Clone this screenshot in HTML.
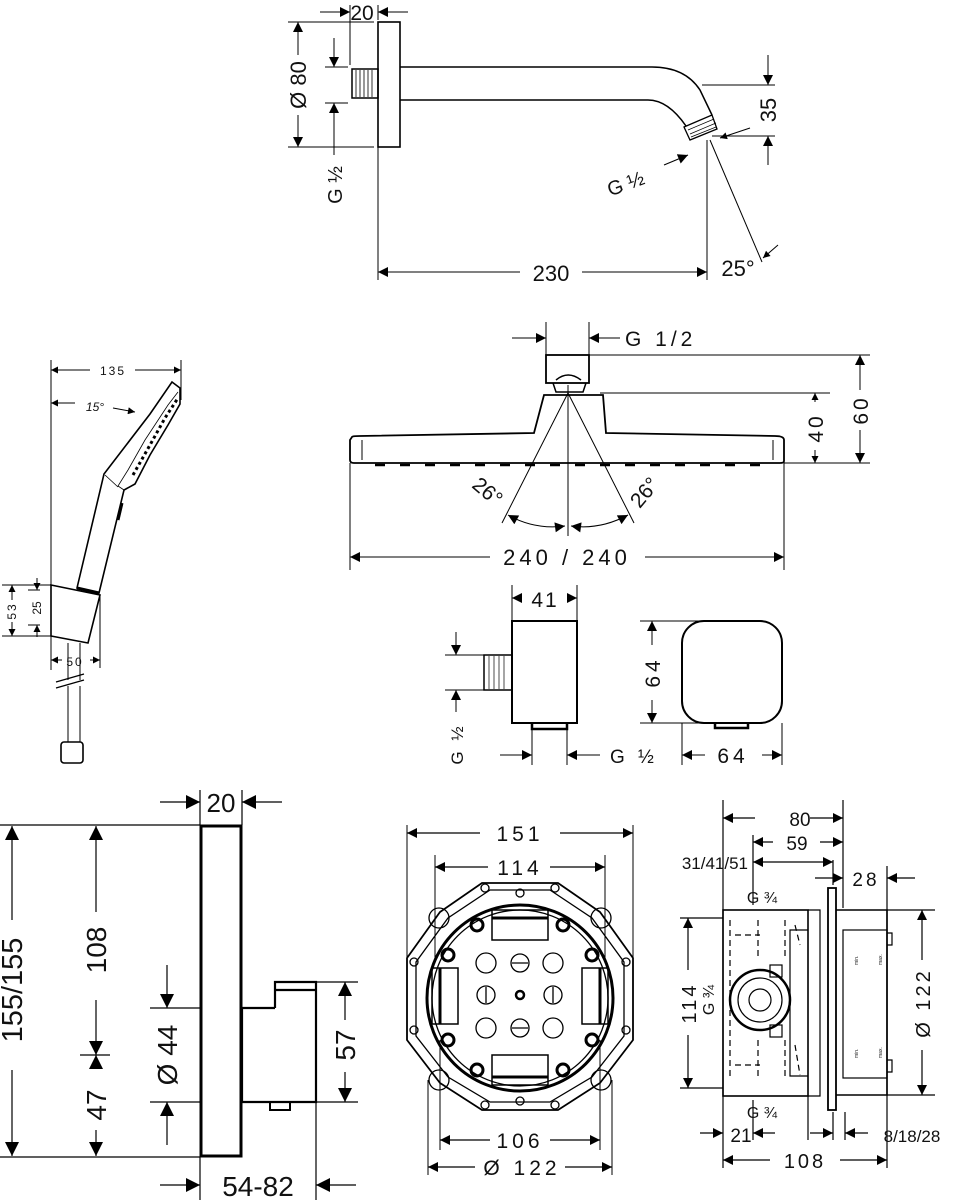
<!DOCTYPE html>
<html><head><meta charset="utf-8"><style>
html,body{margin:0;padding:0;background:#fff}
svg{display:block}
text{font-family:"Liberation Sans","DejaVu Sans",sans-serif;fill:#111}
</style></head><body>
<svg width="955" height="1200" viewBox="0 0 955 1200" xmlns="http://www.w3.org/2000/svg">
<defs>
<marker id="s" viewBox="0 0 10 10" refX="10" refY="5" markerWidth="11" markerHeight="10" markerUnits="userSpaceOnUse" orient="auto-start-reverse"><path d="M0,0L10,5L0,10z" fill="#000"/></marker>
<marker id="b" viewBox="0 0 10 10" refX="10" refY="5" markerWidth="15" markerHeight="14" markerUnits="userSpaceOnUse" orient="auto-start-reverse"><path d="M0,0L10,5L0,10z" fill="#000"/></marker>
<marker id="t" viewBox="0 0 10 10" refX="10" refY="5" markerWidth="8" markerHeight="7" markerUnits="userSpaceOnUse" orient="auto-start-reverse"><path d="M0,0L10,5L0,10z" fill="#000"/></marker>
</defs>

<!-- ===== TOP: wall arm ===== -->
<g stroke="#000" fill="none" stroke-width="1">
<rect x="378" y="22" width="22" height="125" stroke-width="1.6"/>
<rect x="352" y="69" width="26" height="29" stroke-width="1.5"/>
<path d="M356,70V97M360,70V97M364,70V97M368,70V97M372,70V97" stroke-width="0.8"/>
<path d="M400,67H652Q685,67 700,90L712,115" stroke-width="1.5"/>
<path d="M400,100H648Q668,100 686,126" stroke-width="1.5"/>
<path d="M684,127L712,115L717,129L690,140Z" stroke-width="1.3"/>
<path d="M688,130L714,119M690,134L716,123M691,137L716,127" stroke-width="0.7"/>
<path d="M350,5V65M378,5V20"/>
<line x1="320" y1="12" x2="350" y2="12" marker-end="url(#s)"/>
<line x1="408" y1="12" x2="378" y2="12" marker-end="url(#s)"/>
<path d="M288,22H374M288,147H374"/>
<line x1="298" y1="55" x2="298" y2="22" marker-end="url(#s)"/>
<line x1="298" y1="115" x2="298" y2="147" marker-end="url(#s)"/>
<path d="M325,67H348M325,103H348"/>
<line x1="334" y1="38" x2="334" y2="67" marker-end="url(#s)"/>
<line x1="334" y1="155" x2="334" y2="103" marker-end="url(#s)"/>
<path d="M378,147V280M707,140V280"/>
<line x1="520" y1="272" x2="378" y2="272" marker-end="url(#s)"/>
<line x1="582" y1="272" x2="707" y2="272" marker-end="url(#s)"/>
<path d="M702,85H775M712,136H775"/>
<line x1="768" y1="55" x2="768" y2="85" marker-end="url(#s)"/>
<line x1="768" y1="165" x2="768" y2="136" marker-end="url(#s)"/>
<line x1="750" y1="128" x2="720" y2="138" marker-end="url(#t)"/>
<path d="M710,140L762,262"/>
<line x1="778" y1="245" x2="763" y2="258" marker-end="url(#t)"/>
<line x1="664" y1="165" x2="688" y2="155" marker-end="url(#s)"/>
</g>
<text x="362" y="20" font-size="21" text-anchor="middle">20</text>
<text transform="translate(306,85) rotate(-90)" font-size="22" text-anchor="middle">Ø 80</text>
<text transform="translate(342,185) rotate(-90)" font-size="20" text-anchor="middle">G ½</text>
<text x="551" y="281" font-size="22" text-anchor="middle">230</text>
<text transform="translate(776,110) rotate(-90)" font-size="22" text-anchor="middle">35</text>
<text x="738" y="276" font-size="22" text-anchor="middle">25°</text>
<text transform="translate(628,190) rotate(-20)" font-size="20" text-anchor="middle">G ½</text>

<!-- ===== HAND SHOWER ===== -->
<g stroke="#000" fill="none" stroke-width="1">
<path d="M51,360V670M181,360V400"/>
<line x1="90" y1="370" x2="51" y2="370" marker-end="url(#t)"/>
<line x1="135" y1="370" x2="181" y2="370" marker-end="url(#t)"/>
<line x1="75" y1="403" x2="51" y2="403" marker-end="url(#t)"/>
<line x1="113" y1="408" x2="135" y2="412" marker-end="url(#t)"/>
<path d="M104,474L150,414L172,382L180,388L180,404L168,425L150,455L135,484L124,490L99,593L77,588L104,474Z" stroke-width="1.6"/>
<path d="M124,490L118,486L128,470L145,440L168,405L178,392" stroke-width="0.8"/>
<path d="M118,487L105,475" stroke-width="0.8"/>
<path d="M133,475L150,445L165,418L178,398" stroke-width="3" stroke-dasharray="3,3"/>
<path d="M122,503L118,520" stroke-width="3"/>
<path d="M51,585L100,595L88,643L51,636Z" stroke-width="1.6"/>
<path d="M77,588L99,593" stroke-width="3"/>
<path d="M68,643V680M80,643V680M68,686V742M80,686V742"/>
<path d="M56,682L84,674M56,688L84,680" stroke-width="1.3"/>
<rect x="61" y="742" width="22" height="21" rx="3" stroke-width="1.6"/>
<path d="M2,585H51M2,636H51M28,590H40M28,625H40M100,595V668"/>
<line x1="12" y1="600" x2="12" y2="585" marker-end="url(#t)"/>
<line x1="12" y1="622" x2="12" y2="636" marker-end="url(#t)"/>
<line x1="37" y1="578" x2="37" y2="590" marker-end="url(#t)"/>
<line x1="37" y1="637" x2="37" y2="625" marker-end="url(#t)"/>
<line x1="62" y1="660" x2="51" y2="660" marker-end="url(#t)"/>
<line x1="90" y1="660" x2="100" y2="660" marker-end="url(#t)"/>
</g>
<text x="113" y="375" font-size="12" text-anchor="middle" letter-spacing="2">135</text>
<text x="95" y="411" font-size="12" text-anchor="middle" font-style="italic">15°</text>
<text transform="translate(16,611) rotate(-90)" font-size="12" text-anchor="middle" letter-spacing="2">53</text>
<text transform="translate(41,608) rotate(-90)" font-size="12" text-anchor="middle">25</text>
<text x="75" y="666" font-size="12" text-anchor="middle" letter-spacing="2">50</text>

<!-- ===== RAIN SHOWER HEAD ===== -->
<g stroke="#000" fill="none" stroke-width="1">
<path d="M352,437Q352,436 360,436L534,433L544,395L603,395L606,433L775,436Q784,436 784,440V461Q784,463 780,463H354Q350,463 350,460V440Z" stroke-width="1.8"/>
<path d="M362,440V460M773,440V460"/>
<rect x="546" y="355" width="43" height="28" stroke-width="1.8"/>
<path d="M553,383L556,392L583,392L586,383M556,380Q568,370 581,380" stroke-width="1.5"/>
<path d="M375,465H385M400,465H410M425,465H435M450,465H460M475,465H485M500,465H510M525,465H535M550,465H560M575,465H585M600,465H610M625,465H635M650,465H660M675,465H685M700,465H710M725,465H735M750,465H760" stroke-width="2.5"/>
<path d="M568,385V536M568,393L502,523M568,393L634,523"/>
<path d="M546,322V355M589,322V355"/>
<line x1="512" y1="338" x2="546" y2="338" marker-end="url(#s)"/>
<line x1="620" y1="338" x2="589" y2="338" marker-end="url(#s)"/>
<path d="M589,355H870M600,393H830M784,463H870"/>
<line x1="860" y1="390" x2="860" y2="355" marker-end="url(#s)"/>
<line x1="860" y1="430" x2="860" y2="463" marker-end="url(#s)"/>
<line x1="815" y1="402" x2="815" y2="393" marker-end="url(#t)"/>
<line x1="815" y1="450" x2="815" y2="463" marker-end="url(#t)"/>
<path d="M350,463V570M784,463V570"/>
<line x1="490" y1="557" x2="350" y2="557" marker-end="url(#s)"/>
<line x1="645" y1="557" x2="784" y2="557" marker-end="url(#s)"/>
<path d="M508,515Q535,530 565,526" marker-start="url(#s)" marker-end="url(#s)"/>
<path d="M571,526Q600,530 628,515" marker-start="url(#s)" marker-end="url(#s)"/>
</g>
<text x="625" y="346" font-size="21" letter-spacing="4">G 1/2</text>
<text transform="translate(868,410) rotate(-90)" font-size="21" text-anchor="middle" letter-spacing="3">60</text>
<text transform="translate(823,428) rotate(-90)" font-size="21" text-anchor="middle" letter-spacing="3">40</text>
<text x="567" y="565" font-size="22" text-anchor="middle" letter-spacing="4">240 / 240</text>
<text transform="translate(483,497) rotate(40)" font-size="21" text-anchor="middle">26°</text>
<text transform="translate(650,497) rotate(-50)" font-size="21" text-anchor="middle">26°</text>

<!-- ===== OUTLET ===== -->
<g stroke="#000" fill="none" stroke-width="1">
<rect x="512" y="621" width="65" height="102" stroke-width="2"/>
<rect x="484" y="655" width="28" height="35" stroke-width="1.5"/>
<path d="M489,656V689M494,656V689M499,656V689M504,656V689" stroke-width="0.7"/>
<path d="M532,723V729H567V723" stroke-width="2.5"/>
<path d="M512,585V621M577,585V621"/>
<line x1="522" y1="598" x2="512" y2="598" marker-end="url(#s)"/>
<line x1="567" y1="598" x2="577" y2="598" marker-end="url(#s)"/>
<path d="M445,655H484M445,690H484"/>
<line x1="456" y1="632" x2="456" y2="655" marker-end="url(#s)"/>
<line x1="456" y1="712" x2="456" y2="690" marker-end="url(#s)"/>
<path d="M532,729V765M567,729V765"/>
<line x1="500" y1="755" x2="532" y2="755" marker-end="url(#s)"/>
<line x1="600" y1="755" x2="567" y2="755" marker-end="url(#s)"/>
<rect x="682" y="621" width="100" height="102" rx="22" stroke-width="2"/>
<path d="M715,723V728H748V723" stroke-width="2.5"/>
<path d="M640,621H760M640,723H700M682,723V765M782,723V765"/>
<line x1="652" y1="645" x2="652" y2="621" marker-end="url(#s)"/>
<line x1="652" y1="700" x2="652" y2="723" marker-end="url(#s)"/>
<line x1="705" y1="755" x2="682" y2="755" marker-end="url(#s)"/>
<line x1="762" y1="755" x2="782" y2="755" marker-end="url(#s)"/>
</g>
<text x="545" y="607" font-size="21" text-anchor="middle" letter-spacing="2">41</text>
<text transform="translate(463,744) rotate(-90)" font-size="17" text-anchor="middle" letter-spacing="3">G ½</text>
<text x="610" y="763" font-size="19" letter-spacing="4">G ½</text>
<text transform="translate(660,672) rotate(-90)" font-size="21" text-anchor="middle" letter-spacing="4">64</text>
<text x="733" y="763" font-size="21" text-anchor="middle" letter-spacing="4">64</text>

<!-- ===== BOTTOM LEFT: thermostat ===== -->
<g stroke="#000" fill="none" stroke-width="1.2">
<rect x="201" y="826" width="40" height="330" stroke-width="3"/>
<path d="M242,1008H275M242,1008V1102H316V982H275V1008M275,990H316" stroke-width="2.2"/>
<path d="M270,1102V1110H290V1102" stroke-width="2"/>
<path d="M0,825H200M0,1157H200M150,1008H200M150,1102H200M316,982H358M316,1102H358M200,1157V1200M316,1102V1200M200,790V825M242,790V825"/>
<line x1="160" y1="802" x2="200" y2="802" marker-end="url(#b)"/>
<line x1="282" y1="802" x2="242" y2="802" marker-end="url(#b)"/>
<line x1="12" y1="920" x2="12" y2="826" marker-end="url(#b)"/>
<line x1="12" y1="1070" x2="12" y2="1156" marker-end="url(#b)"/>
<line x1="96" y1="912" x2="96" y2="826" marker-end="url(#b)"/>
<line x1="96" y1="1000" x2="96" y2="1055" marker-end="url(#b)"/>
<path d="M80,1055H110"/>
<line x1="96" y1="1068" x2="96" y2="1055" marker-end="url(#b)"/>
<line x1="96" y1="1130" x2="96" y2="1156" marker-end="url(#b)"/>
<line x1="167" y1="965" x2="167" y2="1008" marker-end="url(#b)"/>
<line x1="167" y1="1145" x2="167" y2="1102" marker-end="url(#b)"/>
<line x1="345" y1="1020" x2="345" y2="982" marker-end="url(#b)"/>
<line x1="345" y1="1072" x2="345" y2="1102" marker-end="url(#b)"/>
<line x1="160" y1="1185" x2="200" y2="1185" marker-end="url(#b)"/>
<line x1="356" y1="1185" x2="316" y2="1185" marker-end="url(#b)"/>
</g>
<text x="221" y="812" font-size="26" text-anchor="middle">20</text>
<text transform="translate(22,990) rotate(-90)" font-size="29" text-anchor="middle">155/155</text>
<text transform="translate(106,950) rotate(-90)" font-size="28" text-anchor="middle">108</text>
<text transform="translate(106,1105) rotate(-90)" font-size="28" text-anchor="middle">47</text>
<text transform="translate(177,1055) rotate(-90)" font-size="28" text-anchor="middle">Ø 44</text>
<text transform="translate(355,1045) rotate(-90)" font-size="28" text-anchor="middle">57</text>
<text x="258" y="1196" font-size="28" text-anchor="middle">54-82</text>

<!-- ===== MOUNTING BOX ===== -->
<g stroke="#000" fill="none" stroke-width="1.3">
<path d="M482,883H558L600,912L633,958V1040L600,1083L558,1110H482L440,1083L407,1040V958L440,912Z" stroke-width="1.8"/>
<path d="M490,890H550L592,918L624,962V1036L592,1077L550,1102H490L448,1077L416,1036V962L448,918Z"/>
<circle cx="520" cy="998" r="93" stroke-width="3"/>
<circle cx="520" cy="998" r="88"/>
<circle cx="439" cy="918" r="10"/><circle cx="601" cy="918" r="10"/><circle cx="439" cy="1080" r="10"/><circle cx="601" cy="1080" r="10"/>
<circle cx="486" cy="963" r="10"/><circle cx="520" cy="963" r="9"/><circle cx="553" cy="963" r="10"/>
<circle cx="486" cy="995" r="9"/><circle cx="520" cy="995" r="4" stroke-width="2.5"/><circle cx="553" cy="995" r="9"/>
<circle cx="486" cy="1028" r="10"/><circle cx="520" cy="1028" r="9"/><circle cx="553" cy="1028" r="10"/>
<path d="M512,963H528M512,1028H528M486,987V1003M553,987V1003"/>
<circle cx="477" cy="925" r="6" stroke-width="3"/><circle cx="563" cy="925" r="6" stroke-width="3"/><circle cx="477" cy="1070" r="6" stroke-width="3"/><circle cx="563" cy="1070" r="6" stroke-width="3"/>
<circle cx="448" cy="955" r="6" stroke-width="3"/><circle cx="592" cy="955" r="6" stroke-width="3"/><circle cx="448" cy="1040" r="6" stroke-width="3"/><circle cx="592" cy="1040" r="6" stroke-width="3"/>
<circle cx="485" cy="888" r="4"/><circle cx="520" cy="893" r="4"/><circle cx="555" cy="888" r="4"/>
<circle cx="485" cy="1105" r="4"/><circle cx="520" cy="1101" r="4"/><circle cx="555" cy="1105" r="4"/>
<circle cx="414" cy="962" r="4"/><circle cx="414" cy="1030" r="4"/><circle cx="626" cy="962" r="4"/><circle cx="626" cy="1030" r="4"/>
<rect x="492" y="910" width="56" height="30" stroke-width="1.5"/><rect x="492" y="1055" width="56" height="30" stroke-width="1.5"/>
<rect x="432" y="968" width="26" height="56" stroke-width="1.5"/><rect x="582" y="968" width="26" height="56" stroke-width="1.5"/>
<path d="M492,918H548M492,1077H548M440,968V1024M600,968V1024" stroke-width="3"/>
<path d="M407,825V1040M633,825V1040M435,855V960M605,855V960M440,1040V1150M600,1040V1150M428,1080V1175M612,1080V1175" stroke-width="1"/>
<line x1="480" y1="833" x2="407" y2="833" marker-end="url(#s)"/>
<line x1="560" y1="833" x2="633" y2="833" marker-end="url(#s)"/>
<line x1="488" y1="867" x2="435" y2="867" marker-end="url(#s)"/>
<line x1="550" y1="867" x2="605" y2="867" marker-end="url(#s)"/>
<line x1="490" y1="1140" x2="440" y2="1140" marker-end="url(#s)"/>
<line x1="550" y1="1140" x2="600" y2="1140" marker-end="url(#s)"/>
<line x1="475" y1="1167" x2="428" y2="1167" marker-end="url(#s)"/>
<line x1="565" y1="1167" x2="612" y2="1167" marker-end="url(#s)"/>
</g>
<text x="520" y="841" font-size="21" text-anchor="middle" letter-spacing="4">151</text>
<text x="520" y="875" font-size="21" text-anchor="middle" letter-spacing="4">114</text>
<text x="520" y="1148" font-size="21" text-anchor="middle" letter-spacing="4">106</text>
<text x="522" y="1175" font-size="21" text-anchor="middle" letter-spacing="4">Ø 122</text>

<!-- ===== RIGHT BOX ===== -->
<g stroke="#000" fill="none" stroke-width="1.2">
<rect x="723" y="910" width="85" height="186" stroke-width="1.6"/>
<path d="M808,910H820V1096H808M808,930H790V1076H808"/>
<rect x="828" y="888" width="8" height="222" stroke-width="1.8"/>
<path d="M836,910H887V1095H836" stroke-width="1.6"/>
<rect x="843" y="930" width="44" height="148"/>
<path d="M887,933H892V945H887M887,1060H892V1072H887"/>
<circle cx="760" cy="1000" r="30" stroke-width="2.5"/><circle cx="760" cy="1000" r="22"/><circle cx="760" cy="1000" r="11"/>
<path d="M730,920V1080M758,920V960M758,1040V1080M785,920V960M785,1040V1080M735,935H760M735,1065H760M795,925L800,945M795,1045L800,1075" stroke-dasharray="6,4"/>
<rect x="770" y="965" width="12" height="12"/><rect x="770" y="1025" width="12" height="12"/>
<path d="M723,800V1168M753,835V905M843,800V908M833,860V885M887,866V1168M808,1096V1140M833,1112V1140M845,1112V1140M680,918H723M680,1088H723M887,910H935M887,1095H935"/>
<line x1="755" y1="818" x2="723" y2="818" marker-end="url(#s)"/>
<line x1="810" y1="818" x2="843" y2="818" marker-end="url(#s)"/>
<line x1="773" y1="842" x2="753" y2="842" marker-end="url(#s)"/>
<line x1="820" y1="842" x2="843" y2="842" marker-end="url(#s)"/>
<line x1="800" y1="862" x2="753" y2="862" marker-end="url(#s)"/>
<line x1="800" y1="862" x2="833" y2="862" marker-end="url(#s)"/>
<line x1="815" y1="878" x2="843" y2="878" marker-end="url(#s)"/>
<line x1="915" y1="878" x2="887" y2="878" marker-end="url(#s)"/>
<line x1="922" y1="960" x2="922" y2="910" marker-end="url(#s)"/>
<line x1="922" y1="1050" x2="922" y2="1095" marker-end="url(#s)"/>
<line x1="688" y1="970" x2="688" y2="918" marker-end="url(#s)"/>
<line x1="688" y1="1035" x2="688" y2="1088" marker-end="url(#s)"/>
<line x1="700" y1="1133" x2="723" y2="1133" marker-end="url(#s)"/>
<line x1="775" y1="1133" x2="753" y2="1133" marker-end="url(#s)"/>
<path d="M753,1100V1140"/>
<line x1="810" y1="1133" x2="833" y2="1133" marker-end="url(#s)"/>
<line x1="868" y1="1133" x2="845" y2="1133" marker-end="url(#s)"/>
<line x1="770" y1="1160" x2="723" y2="1160" marker-end="url(#s)"/>
<line x1="840" y1="1160" x2="887" y2="1160" marker-end="url(#s)"/>
</g>
<text x="800" y="826" font-size="19" text-anchor="middle">80</text>
<text x="797" y="850" font-size="19" text-anchor="middle">59</text>
<text x="748" y="869" font-size="17" text-anchor="end">31/41/51</text>
<text x="866" y="886" font-size="19" text-anchor="middle" letter-spacing="3">28</text>
<text x="762" y="903" font-size="16" text-anchor="middle">G ¾</text>
<text x="762" y="1118" font-size="16" text-anchor="middle">G ¾</text>
<text transform="translate(696,1003) rotate(-90)" font-size="20" text-anchor="middle" letter-spacing="3">114</text>
<text transform="translate(714,1000) rotate(-90)" font-size="16" text-anchor="middle">G ¾</text>
<text transform="translate(930,1003) rotate(-90)" font-size="20" text-anchor="middle" letter-spacing="3">Ø 122</text>
<text x="741" y="1142" font-size="19" text-anchor="middle">21</text>
<text x="912" y="1142" font-size="17" text-anchor="middle">8/18/28</text>
<text x="805" y="1168" font-size="20" text-anchor="middle" letter-spacing="3">108</text>
<text transform="translate(858,965) rotate(-90)" font-size="5">min.</text>
<text transform="translate(882,965) rotate(-90)" font-size="5">max.</text>
<text transform="translate(858,1058) rotate(-90)" font-size="5">min.</text>
<text transform="translate(882,1058) rotate(-90)" font-size="5">max.</text>
</svg>
</body></html>
